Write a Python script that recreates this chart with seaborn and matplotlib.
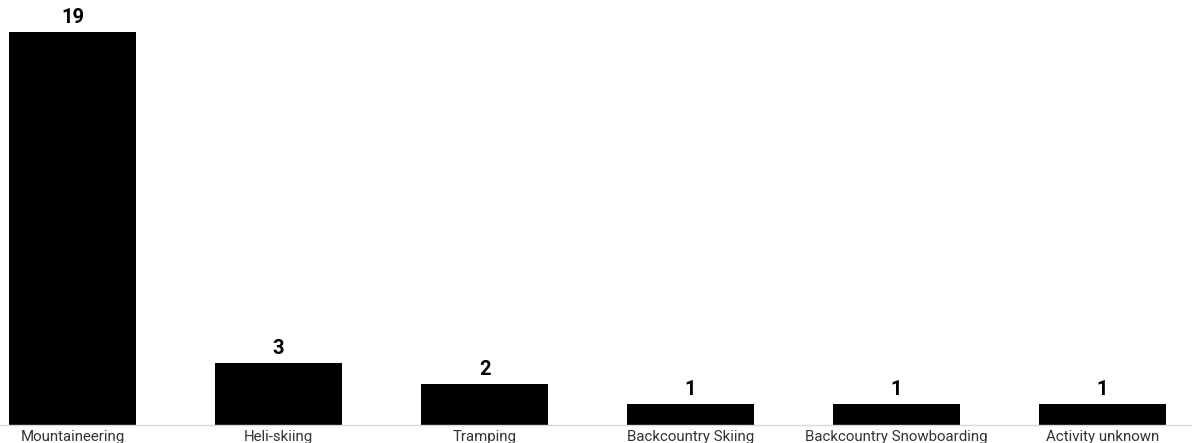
import matplotlib
matplotlib.use("Agg")
import matplotlib.pyplot as plt
import seaborn as sns
import pandas as pd

categories = ["Mountaineering", "Heli-skiing", "Tramping", "Backcountry Skiing",
              "Backcountry Snowboarding", "Activity unknown"]
counts = [19, 3, 2, 1, 1, 1]

df = pd.DataFrame({"activity": categories, "count": counts})

sns.set_theme(style="white")
plt.rcParams["font.family"] = ["Roboto", "DejaVu Sans"]

fig = plt.figure(figsize=(11.92, 4.43), dpi=100)
ax = fig.add_axes([0, 1 - 425 / 443, 1, 425 / 443])

sns.barplot(data=df, x="activity", y="count", color="black", width=0.617,
            saturation=1, linewidth=0, ax=ax)

ax.set_xlim(-0.352, 5.434)
ax.set_ylim(0, 20.53)

for i, v in enumerate(counts):
    ax.annotate(str(v), xy=(i, v), xytext=(0, 3.5), textcoords="offset points",
                ha="center", va="bottom", fontsize=14.5, fontweight="bold",
                color="black")

for s in ["top", "right", "left"]:
    ax.spines[s].set_visible(False)
ax.spines["bottom"].set_color("#d9d9d9")
ax.spines["bottom"].set_linewidth(1)
ax.set_yticks([])
ax.set_xlabel("")
ax.set_ylabel("")
ax.tick_params(axis="x", length=0, pad=3.5, labelsize=10.8, labelcolor="#333333")

fig.savefig("out.png", dpi=100)
